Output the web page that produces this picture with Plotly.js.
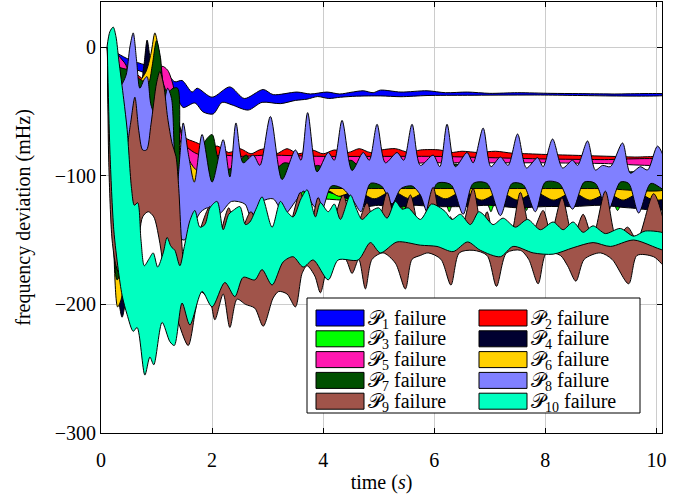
<!DOCTYPE html>
<html>
<head>
<meta charset="utf-8">
<script src="https://cdn.plot.ly/plotly-3.0.1.min.js"></script>
<style>html,body{margin:0;padding:0;background:#fff;}#chart{width:683px;height:497px;}</style>
</head>
<body>
<div id="chart"></div>
<script>
// ---------- data (time in s, frequency deviation in mHz) ----------
const P1_upper_t = [0.11,0.3,0.52,0.8,1.15,1.33,1.46,1.64,1.73,2.0,2.32,2.58,2.92,3.1,3.53,3.77,4.07,4.3,4.5,4.72,4.9,5.03,5.4,5.87,6.2,6.6,7.0,7.5,8.1,8.6,9.2,10.2];
const P1_upper_y = [0,-5,-10,-14,-19,-27,-26,-35,-32,-39,-31,-40,-33,-37,-35,-36.5,-35,-36.5,-35.2,-34,-35.5,-33.5,-35,-34,-35.5,-35,-36,-35.5,-36,-36.2,-36.5,-36.7];
const P1_lower_t = [0.115,0.3,0.52,0.9,1.24,1.39,1.48,1.69,1.84,2.02,2.18,2.36,2.65,2.9,3.23,3.5,3.71,3.9,4.1,4.31,4.6,5.03,5.4,5.87,6.6,7.8,10.2];
const P1_lower_y = [0,-10,-15.5,-22,-29,-41,-47,-43.5,-50.5,-52,-43,-45,-49,-43,-44,-41.5,-40.5,-38.5,-40,-39,-38.2,-38,-38.6,-37.7,-37.5,-37.3,-37.3];

const P2_upper_t = [0.11,0.3,0.6,1.0,1.4,1.5,1.7,1.95,2.1,2.3,2.5,2.7,2.85,3.0,3.15,3.35,3.55,3.8,4.0,4.2,4.45,4.65,4.85,5.05,5.3,5.55,5.75,6.1,6.3,6.5,6.8,7.1,7.4,7.7,8.0,8.4,8.8,9.2,9.6,10.2];
const P2_upper_y = [0,-15,-20,-35,-60,-70,-74,-78,-77,-82,-79,-83,-80,-79,-83,-79,-83,-80,-83,-80,-82,-79,-82,-80,-79,-82,-80,-80,-82,-81,-82,-81,-82.5,-83,-83.5,-84,-84.5,-85,-85.5,-86];
const P2_lower_t = [0.115,0.3,0.6,1.0,1.5,2.0,3.0,4.0,5.0,6.0,7.0,8.0,9.0,10.2];
const P2_lower_y = [0,-120,-100,-95,-95,-90,-88,-88,-87,-87,-88,-88,-89,-89];

const P3_upper_t = [0.11,0.3,0.6,1.0,1.5,2.0,3.0,4.0,5.0,6.0,7.0,8.0,9.0,10.2];
const P3_upper_y = [0,-30,-35,-40,-90,-100,-102,-102,-104,-104,-104,-104,-105,-105];
const P3_lower_t = [0.115,0.3,0.6,1.0,1.5,2.0,3.0,4.0,5.0,5.38,5.45,5.52,6.2,6.27,6.34,6.95,7.02,7.09,7.6,7.66,7.72,9.22,9.3,9.38,9.98,10.05,10.2];
const P3_lower_y = [0,-140,-120,-118,-120,-118,-115,-118,-121,-122,-128,-122,-122,-128,-122,-122,-128,-122,-122,-127,-122,-122,-127,-122,-122,-127,-123];

const P4_upper_t = [0.11,0.3,0.5,0.7,0.77,0.83,0.88,0.95,1.05,1.2,1.4,1.7,2.0,3.0,4.0,5.0,6.0,7.0,8.0,9.0,10.2];
const P4_upper_y = [0,-25,-28,-30,-15,5.4,-8,-30,-40,-60,-80,-100,-105,-105,-100,-100,-100,-100,-101,-101,-102];
const P4_lower_t = [0.115,0.2,0.3,0.38,0.45,0.6,0.8,1.0,1.5,2.0,3.0,4.0,4.5,4.75,5.0,5.3,5.6,6.0,6.5,7.0,7.5,8.0,8.5,9.0,9.5,10.2];
const P4_lower_y = [0,-110,-190,-210,-195,-150,-120,-120,-125,-115,-112,-112,-119,-124,-123,-125,-123,-124,-124,-123,-125,-124,-124,-123,-125,-125];

const P5_upper_t = [0.11,0.3,0.38,0.45,0.55,0.8,1.0,1.1,1.2,1.3,1.35,1.5,1.68,1.9,2.2,2.5,3.0,3.5,4.0,5.0,6.0,7.0,8.0,9.0,10.2];
const P5_upper_y = [0,-6,-10,-14,-38,-45,-35,-15,-18,-30,-45,-75,-82,-85,-84,-85,-84,-84.5,-85,-85,-85,-86,-87,-87.5,-88];
const P5_lower_t = [0.115,0.3,0.6,1.0,1.4,1.68,2.0,2.3,2.6,3.0,3.25,3.5,3.85,4.2,4.5,5.0,6.0,7.0,8.0,9.0,10.2];
const P5_lower_y = [0,-130,-110,-110,-110,-108,-100,-95,-98,-100,-104,-98,-96,-92,-92,-91,-90,-90,-90,-90.5,-91];

const P6_upper_t = [0.11,0.3,0.6,0.8,0.9,0.97,1.05,1.12,1.2,1.4,1.7,2.0,3.0,4.0,5.0,6.0,7.0,8.0,9.0,10.2];
const P6_upper_y = [0,-25,-30,-20,-5,11,-5,-30,-40,-70,-95,-100,-103,-104,-106,-106,-106,-107,-107,-108];
const P6_lower_t = [0.115,0.2,0.3,0.37,0.5,0.8,1.0,1.5,2.0,3.0,3.7,3.9,4.1,4.28,4.6,4.92,5.24,5.56,5.88,6.2,6.52,6.85,7.19,7.5,7.82,8.15,8.49,8.8,9.12,9.4,9.68,9.95,10.2];
const P6_lower_y = [0,-110,-202,-195,-150,-118,-115,-118,-112,-110,-113,-116,-112,-116,-112,-118,-112,-118,-112,-118,-112,-119,-113,-119,-113,-119,-113,-119,-114,-119,-114,-119,-117];

const P7_upper_t = [0.11,0.3,0.5,0.7,0.85,0.92,1.0,1.07,1.12,1.2,1.3,1.38,1.42,1.5,1.6,1.72,1.85,2.0,2.12,2.3,2.5,2.62,2.75,2.95,3.1,3.3,3.5,3.7,3.9,4.1,4.3,4.5,4.7,5.0,5.5,6.0,6.4,6.6,7.0,7.5,8.0,9.0,9.5,10.2];
const P7_upper_y = [0,-15,-18,-25,-28,-15,5,-8,-28,-35,-32,-32,-90,-110,-110,-110,-75,-68,-88,-95,-88,-84,-95,-92,-96,-90,-92,-95,-92,-95,-93,-88,-95,-95,-96,-96,-91,-96,-95,-96,-96,-97,-97,-98];
const P7_lower_t = [0.115,0.2,0.29,0.4,0.6,0.8,1.0,1.4,1.6,2.0,2.5,3.0,3.5,4.0,4.5,5.0,6.0,7.0,8.0,9.0,10.2];
const P7_lower_y = [0,-120,-181,-170,-130,-118,-118,-120,-118,-115,-112,-112,-112,-110,-110,-110,-110,-110,-110,-110,-110];

const P8_upper_t = [0.11,0.25,0.35,0.45,0.52,0.58,0.64,0.7,0.78,0.83,0.9,1.0,1.1,1.2,1.27,1.32,1.37,1.42,1.48,1.58,1.68,1.82,2.0,2.2,2.32,2.43,2.56,2.74,2.86,3.05,3.26,3.5,3.6,3.72,3.89,4.09,4.2,4.34,4.52,4.72,4.83,4.97,5.12,5.33,5.45,5.6,5.75,5.98,6.1,6.23,6.38,6.59,6.7,6.88,7.02,7.19,7.33,7.5,7.66,7.86,7.96,8.13,8.31,8.49,8.58,8.76,8.9,9.03,9.17,9.39,9.53,9.71,9.84,10.02,10.2];
const P8_upper_y = [0,-8,-30,-22,0,11,-10,-32,-25,-23,-45,-55,-50,-32,-40,-80,-108,-85,-59,-85,-105,-68,-105,-72,-101,-59,-90,-84,-92,-54,-103,-80,-88,-51,-97,-82,-88,-57,-96,-82,-88,-60,-90,-82,-88,-60,-92,-84,-93,-60,-93,-82,-90,-63,-93,-85.5,-92,-67.6,-94,-86,-93,-71.5,-94,-88,-92,-73,-95.6,-92,-93,-74.6,-98,-93,-95.6,-77,-95];
const P8_lower_t = [0.115,0.2,0.35,0.5,0.7,0.9,1.1,1.25,1.4,1.5,1.6,1.7,1.8,1.93,2.04,2.18,2.35,2.59,2.7,2.9,3.1,3.3,3.5,3.65,3.82,3.96,4.15,4.35,4.55,4.68,4.85,5.05,5.24,5.4,5.6,5.75,5.88,6.05,6.3,6.52,6.7,6.95,7.19,7.4,7.6,7.82,8.0,8.25,8.49,8.7,8.9,9.12,9.35,9.5,9.68,9.9,10.2];
const P8_lower_y = [0,-80,-150,-150,-120,-115,-128,-138,-148,-150,-143,-135,-128,-125,-133,-128,-120,-122,-132,-120,-118,-130,-120,-112,-123,-128,-108,-110,-120,-128,-106,-108,-122,-110,-108,-115,-129,-106,-107,-130,-106,-106,-131,-106,-107,-128,-105,-106,-126,-105,-106,-128,-105,-106,-129,-106,-112];

const P9_upper_t = [0.11,0.3,0.45,0.53,0.61,0.68,0.75,0.82,0.9,1.0,1.06,1.13,1.2,1.28,1.35,1.4,1.45,1.52,1.65,1.8,1.96,2.1,2.3,2.45,2.7,2.9,3.1,3.3,3.59,3.75,3.91,4.1,4.36,4.55,4.79,4.95,5.15,5.35,5.57,5.75,5.98,6.15,6.29,6.45,6.7,6.85,6.95,7.08,7.24,7.38,7.55,7.75,7.96,8.1,8.3,8.5,8.68,8.85,9.08,9.28,9.48,9.65,9.95,10.2];
const P9_upper_y = [0,-30,-80,-60,-39,-65,-80,-80,-60,-28,-19,-30,-55,-75,-85,-110,-150,-175,-165,-140,-124,-150,-125,-150,-128,-150,-140,-150,-113,-145,-117,-145,-115,-145,-121,-145,-113,-145,-115,-145,-109,-145,-132,-148,-110,-140,-128,-148,-134,-145,-113,-145,-127,-145,-117,-148,-130,-148,-112,-148,-140,-150,-114,-150];
const P9_lower_t = [0.115,0.14,0.2,0.27,0.35,0.5,0.65,0.75,0.85,0.95,1.05,1.15,1.25,1.4,1.57,1.7,1.78,1.96,2.05,2.2,2.32,2.45,2.6,2.77,2.92,3.1,3.2,3.35,3.5,3.62,3.71,3.85,3.95,4.08,4.18,4.4,4.52,4.64,4.76,4.88,5.08,5.3,5.48,5.6,5.75,5.89,6.12,6.3,6.45,6.7,6.95,7.12,7.3,7.55,7.7,7.87,8.02,8.27,8.4,8.55,8.7,8.99,9.2,9.5,9.65,9.95,10.2];
const P9_lower_y = [0,-90,-150,-170,-178,-180,-160,-132,-128,-132,-150,-178,-195,-215,-232,-205,-190,-197,-212,-192,-218,-196,-200,-203,-217,-195,-190,-192,-202,-176,-170,-178,-191,-170,-165,-165,-176,-165,-188,-165,-160,-168,-188,-165,-162,-160,-165,-185,-160,-158,-162,-186,-160,-158,-165,-184,-160,-162,-170,-182,-165,-160,-165,-184,-162,-163,-172];

const P10_upper_t = [0.108,0.16,0.22,0.27,0.32,0.41,0.47,0.55,0.6,0.66,0.72,0.78,0.86,0.94,1.02,1.12,1.19,1.26,1.33,1.42,1.5,1.6,1.69,1.78,1.87,1.96,2.09,2.2,2.3,2.38,2.5,2.6,2.68,2.8,2.9,3.08,3.23,3.35,3.46,3.6,3.71,3.86,3.95,4.09,4.2,4.31,4.49,4.6,4.7,4.85,5.0,5.15,5.3,5.42,5.53,5.75,5.95,6.11,6.2,6.32,6.47,6.65,6.8,6.88,7.06,7.24,7.46,7.68,7.91,8.14,8.32,8.5,8.68,8.86,9.08,9.35,9.59,9.8,10.2];
const P10_upper_y = [0,12,15.5,8,-10,-41,-64,-110,-123,-121,-150,-170,-165,-160,-171,-160,-148,-155,-158,-170,-155,-135,-127,-140,-138,-125,-120,-142,-130,-127,-124,-138,-136,-125,-116.5,-140,-120,-128,-132,-118,-111,-132,-121,-128,-122,-134,-115,-126,-134,-128,-125,-133,-120,-126,-125,-134,-122,-125,-128,-134,-130,-138,-128,-130,-138,-133,-140,-134,-142,-136,-142,-136,-144,-139,-145,-141,-147,-143,-146];
const P10_lower_t = [0.113,0.16,0.23,0.31,0.38,0.47,0.58,0.65,0.79,0.88,0.95,1.1,1.24,1.32,1.46,1.6,1.82,2.0,2.23,2.41,2.56,2.77,2.9,3.08,3.28,3.46,3.64,3.82,4.09,4.27,4.63,4.85,5.03,5.33,5.75,6.05,6.34,6.6,6.83,7.19,7.42,7.78,8.14,8.5,8.86,9.17,9.59,10.2];
const P10_lower_y = [0,-80,-142,-173,-193,-208,-221,-218,-255,-241,-247,-214,-229,-232,-199,-216,-190,-202,-183,-194,-179,-181,-173,-185,-167,-163,-171,-165.5,-181,-165.5,-165.5,-152,-160,-151.5,-154,-155,-159,-151.5,-158,-163,-155,-160,-161,-156,-152,-155,-150,-158];

const seriesLabels = ['𝒫<sub>1</sub> failure','𝒫<sub>2</sub> failure','𝒫<sub>3</sub> failure','𝒫<sub>4</sub> failure','𝒫<sub>5</sub> failure','𝒫<sub>6</sub> failure','𝒫<sub>7</sub> failure','𝒫<sub>8</sub> failure','𝒫<sub>9</sub> failure','𝒫<sub>10</sub> failure'];
const xTickVals = [0,2,4,6,8,10];
const yTickVals = [-300,-200,-100,0];

// ---------- styles ----------
const colors = ['#0000ff','#ff0000','#00ff00','#000030','#ff18b0','#ffd000','#005000','#8080ff','#a0544a','#00ffc0'];
const FONT = 'Liberation Serif';

const bands = [
  [P1_upper_t,P1_upper_y,P1_lower_t,P1_lower_y],
  [P2_upper_t,P2_upper_y,P2_lower_t,P2_lower_y],
  [P3_upper_t,P3_upper_y,P3_lower_t,P3_lower_y],
  [P4_upper_t,P4_upper_y,P4_lower_t,P4_lower_y],
  [P5_upper_t,P5_upper_y,P5_lower_t,P5_lower_y],
  [P6_upper_t,P6_upper_y,P6_lower_t,P6_lower_y],
  [P7_upper_t,P7_upper_y,P7_lower_t,P7_lower_y],
  [P8_upper_t,P8_upper_y,P8_lower_t,P8_lower_y],
  [P9_upper_t,P9_upper_y,P9_lower_t,P9_lower_y],
  [P10_upper_t,P10_upper_y,P10_lower_t,P10_lower_y]
];

const traces = bands.map((b, i) => ({
  type: 'scatter', mode: 'lines',
  x: b[0].concat(b[2].slice().reverse()),
  y: b[1].concat(b[3].slice().reverse()),
  fill: 'toself', fillcolor: colors[i],
  line: {color: '#000', width: 1, shape: 'spline', smoothing: 0.8, simplify: false},
  name: seriesLabels[i], showlegend: false, hoverinfo: 'skip'
}));

// ---------- manual legend (paper coords from plot geometry) ----------
const W = 683, H = 497, L = 101, R = 21, T = 2, B = 64;
const pw = W - L - R, ph = H - T - B;
const px = v => (v - L) / pw;
const py = v => (H - B - v) / ph;
const shapes = [{type:'rect', xref:'paper', yref:'paper', x0:px(307), x1:px(640), y0:py(413), y1:py(298),
  fillcolor:'#fff', line:{color:'#000', width:1}, layer:'above'}];
const annotations = [];
seriesLabels.forEach((lab, i) => {
  const col = i % 2, row = Math.floor(i / 2);
  const cy = 318 + row * 20.8;
  const rx = col === 0 ? 316 : 479;
  shapes.push({type:'rect', xref:'paper', yref:'paper', x0:px(rx), x1:px(rx+48), y0:py(cy+8), y1:py(cy-8),
    fillcolor: colors[i], line:{color:'#000', width:1}, layer:'above'});
  annotations.push({xref:'paper', yref:'paper', x:px(rx+50), y:py(cy+1), xanchor:'left', yanchor:'middle',
    text: lab, showarrow:false, font:{family:FONT, size:20, color:'#000'}});
});

const layout = {
  width: W, height: H,
  margin: {l: L, r: R, t: T, b: B},
  paper_bgcolor: '#fff', plot_bgcolor: '#fff',
  showlegend: false,
  font: {family: FONT, size: 20, color: '#000'},
  xaxis: {range: [0, 10.1], tickvals: xTickVals, ticks: 'inside', ticklen: 5, tickcolor: '#000',
    showline: true, linecolor: '#000', linewidth: 1, mirror: 'ticks', showgrid: true, gridcolor: '#cccccc',
    zeroline: false, ticklabelstandoff: 9, tickfont: {family: FONT, size: 20, color: '#000'},
    title: {text: 'time (<i>s</i>)', font: {family: FONT, size: 20, color: '#000'}, standoff: 4}},
  yaxis: {range: [-300, 35], tickvals: yTickVals, ticks: 'inside', ticklen: 5, tickcolor: '#000',
    showline: true, linecolor: '#000', linewidth: 1, mirror: 'ticks', showgrid: true, gridcolor: '#cccccc',
    zeroline: false, tickfont: {family: FONT, size: 20, color: '#000'},
    title: {text: 'frequency deviation (mHz)', font: {family: FONT, size: 20, color: '#000'}, standoff: 18}},
  shapes: shapes,
  annotations: annotations
};

Plotly.newPlot('chart', traces, layout, {displayModeBar: false, staticPlot: true});
</script>
</body>
</html>
